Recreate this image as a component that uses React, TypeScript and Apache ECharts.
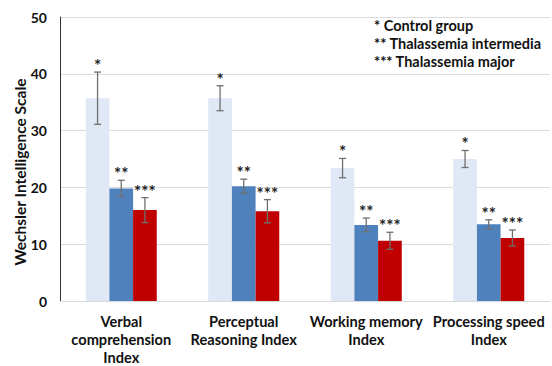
import React, { useEffect, useRef } from "react";
import * as echarts from "echarts";

const categories = [
  "Verbal\ncomprehension\nIndex",
  "Perceptual\nReasoning Index",
  "Working memory\nIndex",
  "Processing speed\nIndex",
];
const seriesNames = ["Control group", "Thalassemia intermedia", "Thalassemia major"];
const marks = ["*", "**", "***"];
const controlMean = [35.7, 35.7, 23.4, 25.0];
const controlErr = [4.6, 2.2, 1.7, 1.5];
const intermediaMean = [19.8, 20.2, 13.4, 13.5];
const intermediaErr = [1.45, 1.25, 1.2, 0.8];
const majorMean = [16.0, 15.8, 10.6, 11.1];
const majorErr = [2.2, 2.05, 1.5, 1.4];
const yTicks = { min: 0, max: 50, interval: 10 };
const yTitle = "Wechsler Intelligence Scale";
const legendLines = ["* Control group", "** Thalassemia intermedia", "*** Thalassemia major"];

const FONT = "Lato, 'Open Sans', sans-serif";
const colors = ["#dfe8f4", "#4f81bd", "#c00000"];
const CAT_GAP = 0.42;

export default function App() {
  const ref = useRef<HTMLDivElement>(null);
  useEffect(() => {
    document.body.style.margin = "0";
    const chart = echarts.init(ref.current!, null, { renderer: "svg" });
    const means = [controlMean, intermediaMean, majorMean];
    const errs = [controlErr, intermediaErr, majorErr];

    const barSeries = means.map((m, k) => ({
      type: "bar",
      name: seriesNames[k],
      data: m,
      barGap: "0%",
      barCategoryGap: CAT_GAP * 100 + "%",
      itemStyle: { color: colors[k] },
    }));

    const errSeries = means.map((m, k) => ({
      type: "custom",
      name: seriesNames[k] + " error",
      z: 5,
      data: m.map((v, i) => [i, v, errs[k][i]]),
      renderItem: (params: any, api: any) => {
        const idx = api.value(0);
        const val = api.value(1);
        const e = api.value(2);
        const bandW = api.size([1, 0])[0];
        const barW = (bandW * (1 - CAT_GAP)) / 3;
        const cx = api.coord([idx, val])[0] + (k - 1) * barW;
        const top = api.coord([idx, val + e])[1];
        const bot = api.coord([idx, val - e])[1];
        const cap = 3.5;
        const ls = { stroke: "#6f6f6f", lineWidth: 1.3 };
        return {
          type: "group",
          children: [
            { type: "line", shape: { x1: cx, y1: top, x2: cx, y2: bot }, style: ls },
            { type: "line", shape: { x1: cx - cap, y1: top, x2: cx + cap, y2: top }, style: ls },
            { type: "line", shape: { x1: cx - cap, y1: bot, x2: cx + cap, y2: bot }, style: ls },
            {
              type: "text",
              x: cx,
              y: top + 2,
              style: {
                text: marks[k],
                fill: "#222",
                font: "bold 17px " + FONT,
                align: "center",
                verticalAlign: "bottom",
              },
            },
          ],
        };
      },
    }));

    chart.setOption({
      animation: false,
      grid: { left: 60, right: 2, top: 17, bottom: 63, containLabel: false },
      xAxis: {
        type: "category",
        data: categories,
        axisTick: { show: false },
        axisLine: { lineStyle: { color: "#d9d9d9", width: 1 } },
        axisLabel: {
          interval: 0,
          margin: 11,
          color: "#111",
          fontFamily: FONT,
          fontWeight: "bold",
          fontSize: 14.6,
          lineHeight: 18,
        },
      },
      yAxis: {
        type: "value",
        min: yTicks.min,
        max: yTicks.max,
        interval: yTicks.interval,
        axisLine: { show: true, lineStyle: { color: "#333", width: 1 } },
        axisTick: { show: false },
        splitLine: { lineStyle: { color: "#dcdcdc", width: 1 } },
        axisLabel: { color: "#111", fontFamily: FONT, fontWeight: "bold", fontSize: 14, margin: 13 },
      },
      series: [...barSeries, ...errSeries],
      graphic: [
        {
          type: "text",
          x: 20,
          y: 172,
          rotation: Math.PI / 2,
          style: {
            text: yTitle,
            fill: "#111",
            font: "bold 15.5px " + FONT,
            align: "center",
            verticalAlign: "middle",
          },
        },
        ...legendLines.map((t, i) => ({
          type: "text",
          left: 374,
          top: 18 + i * 18,
          style: { text: t, fill: "#111", font: "bold 14.5px " + FONT },
        })),
      ],
    });
    return () => chart.dispose();
  }, []);
  return <div ref={ref} style={{ width: 552, height: 366 }} />;
}
